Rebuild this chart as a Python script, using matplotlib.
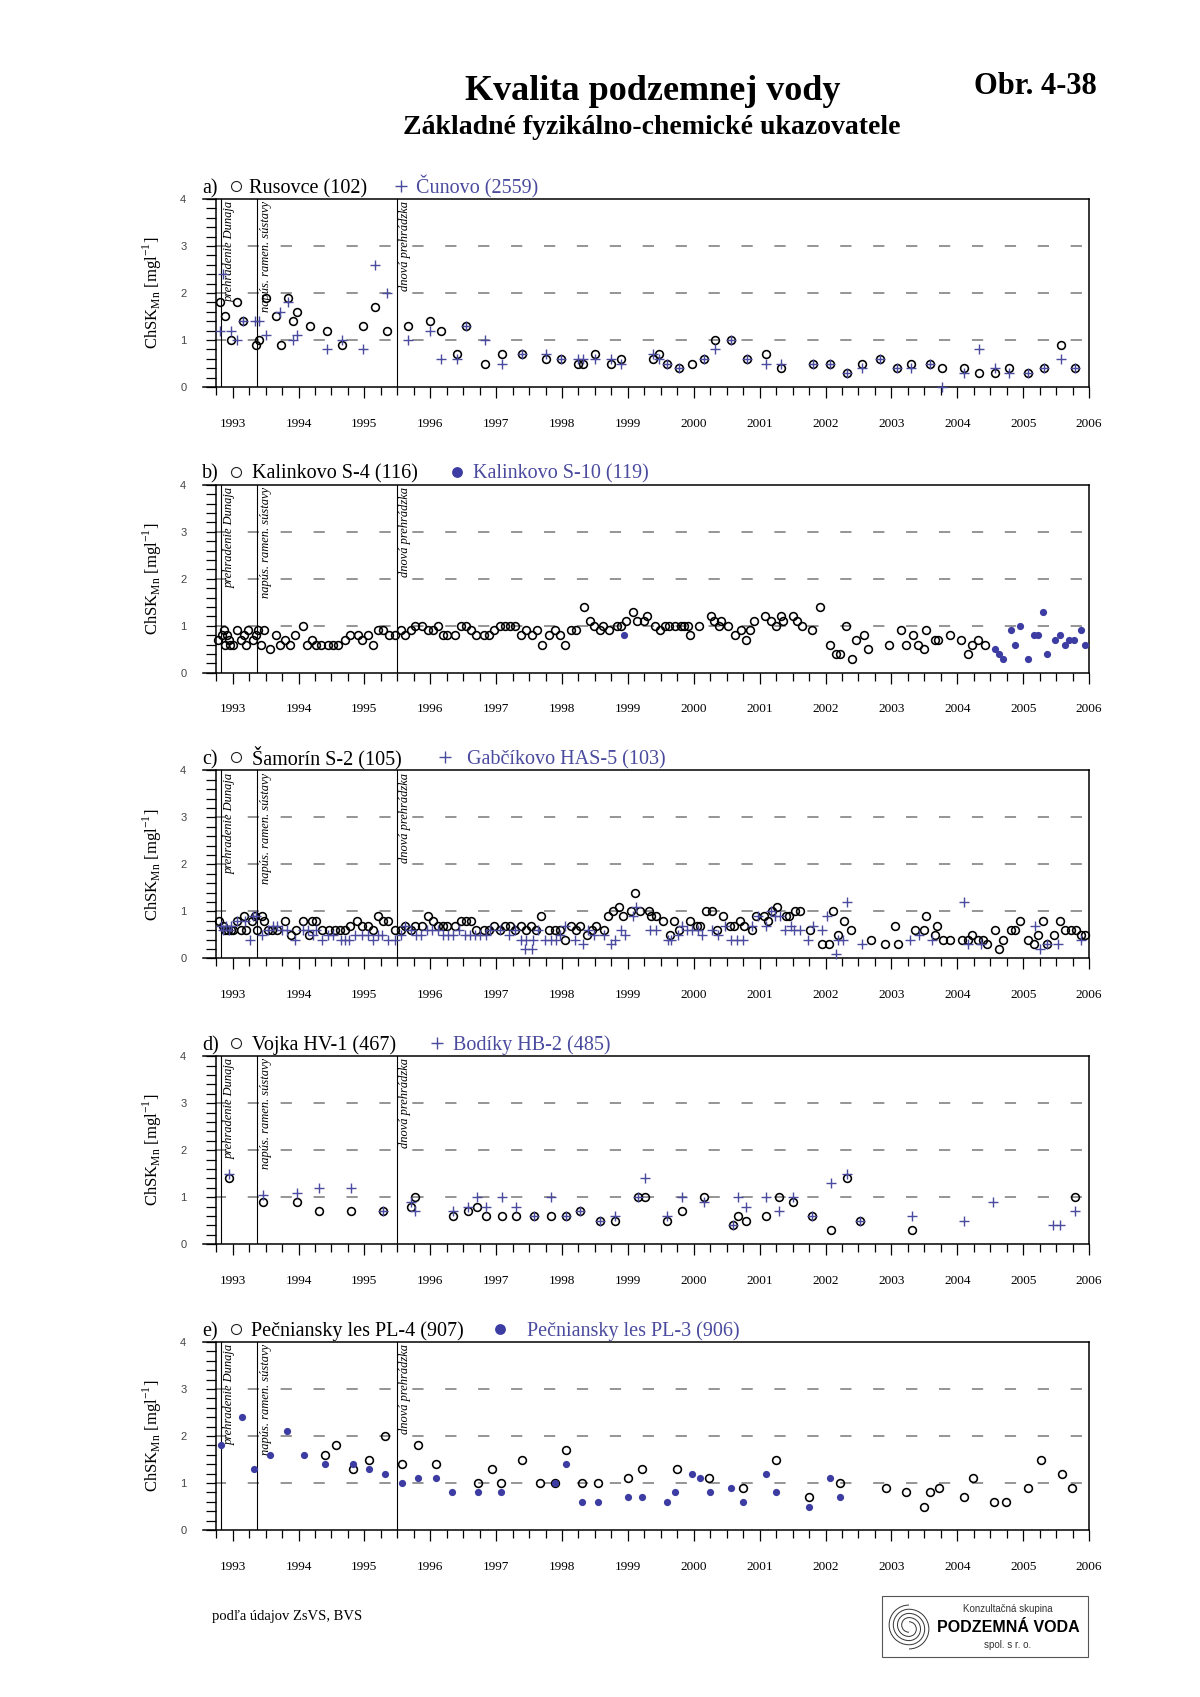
import numpy as np
import matplotlib
matplotlib.use('Agg')
from matplotlib import pyplot as plt
from matplotlib.lines import Line2D
from matplotlib.patches import Rectangle, Arc

plt.rcParams['font.family'] = ['Liberation Serif', 'DejaVu Serif']
plt.rcParams['mathtext.fontset'] = 'custom'
plt.rcParams['mathtext.rm'] = 'Liberation Serif'
plt.rcParams['lines.scale_dashes'] = False

W, H, DPI = 1200, 1697, 100

BLUE = '#4a4a9e'
DOT_BLUE = '#3c3ca2'
GREY = '#8c8c8c'

YEARS = list(range(1993, 2007))
Y_LEVELS = [1, 2, 3]
EVENT_T = [1992.83, 1993.37, 1995.49]
EVENT_TXT = ['prehradenie Dunaja', 'napús. ramen. sústavy', 'dnová prehrádzka']

# a) Rusovce (102) - circles
rus_t = [1992.81, 1992.88, 1992.98, 1993.06, 1993.16, 1993.35, 1993.40, 1993.50, 1993.66, 1993.73,
         1993.84, 1993.91, 1993.98, 1994.17, 1994.43, 1994.66, 1994.98, 1995.16, 1995.34, 1995.66,
         1995.99, 1996.16, 1996.40, 1996.55, 1996.83, 1997.09, 1997.39, 1997.75, 1997.98, 1998.24,
         1998.32, 1998.50, 1998.74, 1998.89, 1999.38, 1999.47, 1999.60, 1999.78, 1999.97, 2000.15,
         2000.32, 2000.56, 2000.81, 2001.10, 2001.33, 2001.81, 2002.07, 2002.33, 2002.55, 2002.83,
         2003.09, 2003.30, 2003.59, 2003.77, 2004.10, 2004.33, 2004.57, 2004.78, 2005.08, 2005.32,
         2005.58, 2005.79]
rus_v = [1.8, 1.5, 1.0, 1.8, 1.4, 0.9, 1.0, 1.9, 1.5, 0.9,
         1.9, 1.4, 1.6, 1.3, 1.2, 0.9, 1.3, 1.7, 1.2, 1.3,
         1.4, 1.2, 0.7, 1.3, 0.5, 0.7, 0.7, 0.6, 0.6, 0.5,
         0.5, 0.7, 0.5, 0.6, 0.6, 0.7, 0.5, 0.4, 0.5, 0.6,
         1.0, 1.0, 0.6, 0.7, 0.4, 0.5, 0.5, 0.3, 0.5, 0.6,
         0.4, 0.5, 0.5, 0.4, 0.4, 0.3, 0.3, 0.4, 0.3, 0.4,
         0.9, 0.4]
# a) Čunovo (2559) - crosses
cun_t = [1992.81, 1992.86, 1992.98, 1993.06, 1993.16, 1993.34, 1993.40, 1993.50, 1993.72, 1993.84,
         1993.91, 1993.98, 1994.43, 1994.66, 1994.98, 1995.16, 1995.34, 1995.66, 1995.99, 1996.16,
         1996.40, 1996.55, 1996.83, 1997.09, 1997.39, 1997.75, 1997.98, 1998.24, 1998.32, 1998.50,
         1998.74, 1998.89, 1999.38, 1999.47, 1999.60, 1999.78, 2000.15, 2000.32, 2000.56, 2000.81,
         2001.10, 2001.33, 2001.81, 2002.07, 2002.33, 2002.55, 2002.83, 2003.09, 2003.30, 2003.59,
         2003.77, 2004.10, 2004.33, 2004.57, 2004.78, 2005.08, 2005.32, 2005.58, 2005.79]
cun_v = [1.2, 2.4, 1.2, 1.0, 1.4, 1.4, 1.4, 1.1, 1.6, 1.8,
         1.0, 1.1, 0.8, 1.0, 0.8, 2.6, 2.0, 1.0, 1.2, 0.6,
         0.6, 1.3, 1.0, 0.5, 0.7, 0.7, 0.6, 0.6, 0.6, 0.6,
         0.6, 0.5, 0.7, 0.6, 0.5, 0.4, 0.6, 0.8, 1.0, 0.6,
         0.5, 0.5, 0.5, 0.5, 0.3, 0.4, 0.6, 0.4, 0.4, 0.5,
         0.0, 0.3, 0.8, 0.4, 0.3, 0.3, 0.4, 0.6, 0.4]

# b) Kalinkovo S-4 (116) - circles
ks4_t = [1992.78, 1992.84, 1992.87, 1992.88, 1992.92, 1992.94, 1992.96, 1993.00,
         1993.07, 1993.13, 1993.17, 1993.20, 1993.24, 1993.31, 1993.35, 1993.38, 1993.43, 1993.48,
         1993.56, 1993.66, 1993.72, 1993.79, 1993.87, 1993.95, 1994.07, 1994.13, 1994.20, 1994.27,
         1994.34, 1994.45, 1994.53, 1994.60, 1994.70, 1994.78, 1994.90, 1994.97, 1995.05, 1995.13,
         1995.20, 1995.28, 1995.37, 1995.47, 1995.55, 1995.62, 1995.70, 1995.77, 1995.88, 1995.97,
         1996.04, 1996.11, 1996.19, 1996.26, 1996.38, 1996.46, 1996.54, 1996.62, 1996.70, 1996.81,
         1996.89, 1996.97, 1997.06, 1997.13, 1997.21, 1997.29, 1997.37, 1997.46, 1997.54, 1997.62,
         1997.69, 1997.80, 1997.89, 1997.97, 1998.05, 1998.13, 1998.21, 1998.33, 1998.42, 1998.49,
         1998.57, 1998.62, 1998.72, 1998.83, 1998.90, 1998.97, 1999.08, 1999.14, 1999.24, 1999.29,
         1999.41, 1999.49, 1999.57, 1999.62, 1999.71, 1999.81, 1999.85, 1999.91, 1999.95, 2000.08,
         2000.26, 2000.31, 2000.38, 2000.42, 2000.52, 2000.62, 2000.71, 2000.80, 2000.86, 2000.92,
         2001.08, 2001.17, 2001.25, 2001.32, 2001.36, 2001.50, 2001.57, 2001.65, 2001.80, 2001.92,
         2002.07, 2002.16, 2002.22, 2002.31, 2002.40, 2002.47, 2002.58, 2002.65, 2002.97, 2003.15,
         2003.22, 2003.33, 2003.40, 2003.49, 2003.53, 2003.66, 2003.71, 2003.89, 2004.06, 2004.16,
         2004.22, 2004.32, 2004.42]
ks4_v = [0.7, 0.8, 0.9, 0.6, 0.8, 0.7, 0.6, 0.6,
         0.9, 0.7, 0.8, 0.6, 0.9, 0.7, 0.8, 0.9, 0.6, 0.9,
         0.5, 0.8, 0.6, 0.7, 0.6, 0.8, 1.0, 0.6, 0.7, 0.6,
         0.6, 0.6, 0.6, 0.6, 0.7, 0.8, 0.8, 0.7, 0.8, 0.6,
         0.9, 0.9, 0.8, 0.8, 0.9, 0.8, 0.9, 1.0, 1.0, 0.9,
         0.9, 1.0, 0.8, 0.8, 0.8, 1.0, 1.0, 0.9, 0.8, 0.8,
         0.8, 0.9, 1.0, 1.0, 1.0, 1.0, 0.8, 0.9, 0.8, 0.9,
         0.6, 0.8, 0.9, 0.8, 0.6, 0.9, 0.9, 1.4, 1.1, 1.0,
         0.9, 1.0, 0.9, 1.0, 1.0, 1.1, 1.3, 1.1, 1.1, 1.2,
         1.0, 0.9, 1.0, 1.0, 1.0, 1.0, 1.0, 1.0, 0.8, 1.0,
         1.2, 1.1, 1.0, 1.1, 1.0, 0.8, 0.9, 0.7, 0.9, 1.1,
         1.2, 1.1, 1.0, 1.2, 1.1, 1.2, 1.1, 1.0, 0.9, 1.4,
         0.6, 0.4, 0.4, 1.0, 0.3, 0.7, 0.8, 0.5, 0.6, 0.9,
         0.6, 0.8, 0.6, 0.5, 0.9, 0.7, 0.7, 0.8, 0.7, 0.4,
         0.6, 0.7, 0.6]
# b) Kalinkovo S-10 (119) - filled dots
ks10_t = [1998.94, 2004.57, 2004.64, 2004.70, 2004.81, 2004.88, 2004.95, 2005.08, 2005.16, 2005.23,
          2005.30, 2005.37, 2005.48, 2005.56, 2005.64, 2005.70, 2005.77, 2005.88, 2005.94]
ks10_v = [0.8, 0.5, 0.4, 0.3, 0.9, 0.6, 1.0, 0.3, 0.8, 0.8,
          1.3, 0.4, 0.7, 0.8, 0.6, 0.7, 0.7, 0.9, 0.6]

# c) Šamorín S-2 (105) - circles
sam_t = [1992.80, 1992.85, 1992.89, 1992.93, 1992.97, 1993.00,
         1993.07, 1993.12, 1993.17, 1993.20, 1993.29, 1993.34, 1993.37, 1993.44, 1993.48, 1993.53,
         1993.60, 1993.68, 1993.79, 1993.88, 1993.96, 1994.07, 1994.16, 1994.20, 1994.27, 1994.35,
         1994.47, 1994.55, 1994.63, 1994.70, 1994.78, 1994.89, 1994.97, 1995.05, 1995.13, 1995.20,
         1995.28, 1995.36, 1995.47, 1995.56, 1995.62, 1995.70, 1995.77, 1995.88, 1995.97, 1996.04,
         1996.11, 1996.19, 1996.26, 1996.38, 1996.46, 1996.54, 1996.62, 1996.70, 1996.82, 1996.89,
         1996.97, 1997.06, 1997.13, 1997.21, 1997.29, 1997.37, 1997.46, 1997.53, 1997.61, 1997.68,
         1997.80, 1997.89, 1997.97, 1998.05, 1998.13, 1998.21, 1998.28, 1998.38, 1998.45, 1998.52,
         1998.63, 1998.70, 1998.78, 1998.87, 1998.93, 1999.05, 1999.11, 1999.18, 1999.32, 1999.35,
         1999.43, 1999.53, 1999.64, 1999.70, 1999.78, 1999.95, 2000.05, 2000.10, 2000.19, 2000.28,
         2000.36, 2000.45, 2000.55, 2000.61, 2000.70, 2000.77, 2000.89, 2000.95, 2001.07, 2001.12,
         2001.19, 2001.27, 2001.40, 2001.45, 2001.54, 2001.61, 2001.77, 2001.94, 2002.06, 2002.12,
         2002.19, 2002.28, 2002.38, 2002.69, 2002.91, 2003.05, 2003.10, 2003.36, 2003.49, 2003.53,
         2003.66, 2003.70, 2003.79, 2003.89, 2004.07, 2004.16, 2004.22, 2004.32, 2004.39, 2004.45,
         2004.57, 2004.64, 2004.70, 2004.81, 2004.88, 2004.95, 2005.08, 2005.16, 2005.23, 2005.30,
         2005.36, 2005.47, 2005.56, 2005.64, 2005.73, 2005.80, 2005.88, 2005.94]
sam_v = [0.8, 0.7, 0.6, 0.6, 0.6, 0.6,
         0.8, 0.6, 0.9, 0.6, 0.8, 0.9, 0.6, 0.9, 0.8, 0.6,
         0.6, 0.6, 0.8, 0.5, 0.6, 0.8, 0.5, 0.8, 0.8, 0.6,
         0.6, 0.6, 0.6, 0.6, 0.7, 0.8, 0.7, 0.7, 0.6, 0.9,
         0.8, 0.8, 0.6, 0.6, 0.7, 0.6, 0.7, 0.7, 0.9, 0.8,
         0.7, 0.7, 0.7, 0.7, 0.8, 0.8, 0.8, 0.6, 0.6, 0.6,
         0.7, 0.6, 0.7, 0.7, 0.6, 0.7, 0.6, 0.7, 0.6, 0.9,
         0.6, 0.6, 0.6, 0.4, 0.7, 0.6, 0.7, 0.5, 0.6, 0.7,
         0.6, 0.9, 1.0, 1.1, 0.9, 1.0, 1.4, 1.0, 1.0, 0.9,
         0.9, 0.8, 0.5, 0.8, 0.6, 0.8, 0.7, 0.7, 1.0, 1.0,
         0.6, 0.9, 0.7, 0.7, 0.8, 0.7, 0.6, 0.9, 0.9, 0.8,
         1.0, 1.1, 0.9, 0.9, 1.0, 1.0, 0.6, 0.3, 0.3, 1.0,
         0.5, 0.8, 0.6, 0.4, 0.3, 0.7, 0.3, 0.6, 0.6, 0.9,
         0.5, 0.7, 0.4, 0.4, 0.4, 0.4, 0.5, 0.4, 0.4, 0.3,
         0.6, 0.2, 0.4, 0.6, 0.6, 0.8, 0.4, 0.3, 0.5, 0.8,
         0.3, 0.5, 0.8, 0.6, 0.6, 0.6, 0.5, 0.5]
# c) Gabčíkovo HAS-5 (103) - crosses
gab_t = [1992.82, 1992.86, 1992.90, 1992.94, 1992.98,
         1993.07, 1993.19, 1993.26, 1993.31, 1993.35, 1993.44, 1993.53, 1993.61, 1993.68, 1993.75,
         1993.83, 1993.95, 1994.07, 1994.15, 1994.22, 1994.27, 1994.36, 1994.45, 1994.53, 1994.64,
         1994.70, 1994.76, 1994.86, 1994.97, 1995.05, 1995.13, 1995.20, 1995.27, 1995.36, 1995.46,
         1995.55, 1995.62, 1995.70, 1995.78, 1995.86, 1995.95, 1996.03, 1996.11, 1996.19, 1996.27,
         1996.35, 1996.43, 1996.52, 1996.60, 1996.68, 1996.76, 1996.84, 1996.90, 1997.06, 1997.19,
         1997.28, 1997.38, 1997.44, 1997.46, 1997.55, 1997.56, 1997.63, 1997.74, 1997.83, 1997.91,
         1997.97, 1998.05, 1998.20, 1998.32, 1998.40, 1998.49,
         1998.64, 1998.74, 1998.81, 1998.89, 1998.95, 1999.08, 1999.13, 1999.34, 1999.42, 1999.61,
         1999.66, 1999.76, 1999.82, 1999.90, 1999.98, 2000.06, 2000.13, 2000.28, 2000.37, 2000.47,
         2000.57, 2000.66, 2000.75, 2000.89, 2000.98, 2001.09, 2001.17, 2001.24, 2001.31, 2001.38,
         2001.47, 2001.52, 2001.61, 2001.73, 2001.81, 2001.95, 2002.03, 2002.16, 2002.19, 2002.27,
         2002.32, 2002.56, 2003.28, 2003.42, 2003.61, 2004.10, 2004.17, 2004.36, 2005.18, 2005.26,
         2005.37, 2005.53, 2005.88]
gab_v = [0.7, 0.6, 0.7, 0.6, 0.7,
         0.8, 0.8, 0.4, 0.9, 0.9, 0.5, 0.6, 0.7, 0.7, 0.6,
         0.6, 0.4, 0.6, 0.6, 0.5, 0.6, 0.4, 0.5, 0.5, 0.4,
         0.4, 0.4, 0.5, 0.5, 0.5, 0.4, 0.5, 0.5, 0.4, 0.4,
         0.5, 0.7, 0.6, 0.5, 0.5, 0.6, 0.6, 0.6, 0.5, 0.5,
         0.5, 0.6, 0.5, 0.5, 0.5, 0.5, 0.5, 0.6, 0.6, 0.5,
         0.6, 0.4, 0.2, 0.4, 0.2, 0.4, 0.6, 0.4, 0.4, 0.4,
         0.5, 0.7, 0.4, 0.3, 0.6, 0.5,
         0.5, 0.3, 0.4, 0.6, 0.5, 0.9, 1.1, 0.6, 0.6, 0.4,
         0.4, 0.5, 0.7, 0.6, 0.6, 0.6, 0.5, 0.6, 0.5, 0.7,
         0.4, 0.4, 0.4, 0.7, 0.9, 0.7, 1.0, 0.9, 0.9, 0.6,
         0.7, 0.6, 0.6, 0.4, 0.7, 0.6, 0.9, 0.1, 0.4, 0.4,
         1.2, 0.3, 0.4, 0.5, 0.4, 1.2, 0.3, 0.3, 0.7, 0.2,
         0.3, 0.3, 0.4]

# d) Vojka HV-1 (467) - circles
voj_t = [1992.95, 1993.46, 1993.97, 1994.31, 1994.79, 1995.29, 1995.71, 1995.77, 1996.34, 1996.58,
         1996.71, 1996.85, 1997.09, 1997.30, 1997.57, 1997.84, 1998.06, 1998.27, 1998.58, 1998.81,
         1999.15, 1999.26, 1999.60, 1999.82, 2000.16, 2000.59, 2000.67, 2000.79, 2001.10, 2001.29,
         2001.51, 2001.79, 2002.09, 2002.32, 2002.53, 2003.32, 2005.79]
voj_v = [1.4, 0.9, 0.9, 0.7, 0.7, 0.7, 0.8, 1.0, 0.6, 0.7,
         0.8, 0.6, 0.6, 0.6, 0.6, 0.6, 0.6, 0.7, 0.5, 0.5,
         1.0, 1.0, 0.5, 0.7, 1.0, 0.4, 0.6, 0.5, 0.6, 1.0,
         0.9, 0.6, 0.3, 1.4, 0.5, 0.3, 1.0]
# d) Bodíky HB-2 (485) - crosses
bod_t = [1992.95, 1993.46, 1993.97, 1994.31, 1994.79, 1995.29, 1995.71, 1995.77, 1996.34, 1996.58,
         1996.71, 1996.85, 1997.09, 1997.30, 1997.57, 1997.84, 1998.06, 1998.27, 1998.58, 1998.81,
         1999.15, 1999.26, 1999.60, 1999.82, 2000.16, 2000.59, 2000.67, 2000.79, 2001.10, 2001.29,
         2001.51, 2001.79, 2002.09, 2002.32, 2002.53, 2003.32, 2004.10, 2004.54, 2005.45, 2005.56,
         2005.79]
bod_v = [1.5, 1.05, 1.1, 1.2, 1.2, 0.7, 0.9, 0.7, 0.7, 0.8,
         1.0, 0.8, 1.0, 0.8, 0.6, 1.0, 0.6, 0.7, 0.5, 0.6,
         1.0, 1.4, 0.6, 1.0, 0.9, 0.4, 1.0, 0.8, 1.0, 0.7,
         1.0, 0.6, 1.3, 1.5, 0.5, 0.6, 0.5, 0.9, 0.4, 0.4,
         0.7]

# e) Pečniansky les PL-4 (907) - circles
pl4_t = [1994.40, 1994.57, 1994.82, 1995.07, 1995.32, 1995.57, 1995.82, 1996.08, 1996.73, 1996.94,
         1997.07, 1997.40, 1997.66, 1997.90, 1998.06, 1998.31, 1998.55, 1999.00, 1999.22, 1999.74,
         2000.23, 2000.75, 2001.25, 2001.75, 2002.22, 2002.92, 2003.22, 2003.50, 2003.59, 2003.72,
         2004.10, 2004.24, 2004.56, 2004.74, 2005.08, 2005.27, 2005.59, 2005.74]
pl4_v = [1.6, 1.8, 1.3, 1.5, 2.0, 1.4, 1.8, 1.4, 1.0, 1.3,
         1.0, 1.5, 1.0, 1.0, 1.7, 1.0, 1.0, 1.1, 1.3, 1.3,
         1.1, 0.9, 1.5, 0.7, 1.0, 0.9, 0.8, 0.5, 0.8, 0.9,
         0.7, 1.1, 0.6, 0.6, 0.9, 1.5, 1.2, 0.9]
# e) Pečniansky les PL-3 (906) - filled dots
pl3_t = [1992.82, 1993.14, 1993.32, 1993.57, 1993.83, 1994.08, 1994.40, 1994.82, 1995.07, 1995.32,
         1995.57, 1995.82, 1996.08, 1996.33, 1996.73, 1997.07, 1997.90, 1998.06, 1998.31, 1998.55,
         1999.00, 1999.22, 1999.59, 1999.72, 1999.97, 2000.10, 2000.24, 2000.56, 2000.75, 2001.09,
         2001.25, 2001.75, 2002.07, 2002.22]
pl3_v = [1.8, 2.4, 1.3, 1.6, 2.1, 1.6, 1.4, 1.4, 1.3, 1.2,
         1.0, 1.1, 1.1, 0.8, 0.8, 0.8, 1.0, 1.4, 0.6, 0.6,
         0.7, 0.7, 0.6, 0.8, 1.2, 1.1, 0.8, 0.9, 0.6, 1.2,
         0.8, 0.5, 1.1, 0.7]

# letter, first station, second station, series, kind of 2nd marker, title x positions (px)
PANELS = [
    ('a', 'Rusovce (102)', 'Čunovo (2559)', (rus_t, rus_v), (cun_t, cun_v), '+', (249, 401, 416)),
    ('b', 'Kalinkovo S-4 (116)', 'Kalinkovo S-10 (119)', (ks4_t, ks4_v), (ks10_t, ks10_v), 'dot', (252, 457, 473)),
    ('c', 'Šamorín S-2 (105)', 'Gabčíkovo HAS-5 (103)', (sam_t, sam_v), (gab_t, gab_v), '+', (252, 445, 467)),
    ('d', 'Vojka HV-1 (467)', 'Bodíky HB-2 (485)', (voj_t, voj_v), (bod_t, bod_v), '+', (252, 437, 453)),
    ('e', 'Pečniansky les PL-4 (907)', 'Pečniansky les PL-3 (906)', (pl4_t, pl4_v), (pl3_t, pl3_v), 'dot', (251, 500, 527)),
]


def fx(px):
    return px / W


def fy(py):
    return 1 - py / H


fig = plt.figure(figsize=(W / DPI, H / DPI), dpi=DPI)
fig.patch.set_facecolor('white')

for i, (letter, n1, n2, s1, s2, kind2, (x1, xs, x2)) in enumerate(PANELS):
    top = 199 + 285.75 * i
    ax = fig.add_axes([fx(203), fy(top + 188), 886 / W, 188 / H])
    ax.set_xlim(1992.55, 2006.0)
    ax.set_ylim(0, 4)
    for s in ax.spines.values():
        s.set_linewidth(1.1)
    ax.spines['left'].set_position(('data', 1992.75))

    ax.set_xticks(YEARS)
    ax.set_xticklabels([str(y) for y in YEARS])
    ax.set_xticks(np.arange(1992.75, 2006.0, 0.25), minor=True)
    ax.set_yticks([0, 1, 2, 3, 4])
    ax.set_yticks(np.arange(0, 4.01, 0.2), minor=True)
    ax.tick_params(axis='x', which='major', direction='out', length=8, width=0.9, pad=14, labelsize=9.5)
    ax.tick_params(axis='x', which='minor', direction='out', length=5.5, width=0.9)
    ax.tick_params(axis='y', which='both', direction='out', length=7.5, width=0.9)
    ax.tick_params(axis='y', which='major', pad=14, labelsize=8, labelcolor='#444444')
    for lab in ax.get_yticklabels():
        lab.set_fontfamily('Liberation Sans')

    for yl in Y_LEVELS:
        ax.axhline(yl, color=GREY, lw=1.3, linestyle=(15.2, (8.1, 15.6)), zorder=1)

    for t, txt in zip(EVENT_T, EVENT_TXT):
        ax.axvline(t, color='black', lw=0.8, zorder=2)
        ax.annotate(txt, xy=(t, 4), xytext=(1.8, -1.5), textcoords='offset points',
                    rotation=90, ha='left', va='top', fontsize=9, style='italic')

    ax.plot(*s1, ls='none', marker='o', ms=5.6, mfc='none', mec='black', mew=1.15,
            zorder=3, clip_on=False)
    if kind2 == '+':
        ax.plot(*s2, ls='none', marker='+', ms=6.5, mec=BLUE, mew=1.0, zorder=4, clip_on=False)
    else:
        ax.plot(*s2, ls='none', marker='o', ms=5.2, mfc=DOT_BLUE, mec='none', zorder=4)

    ax.set_ylabel(r'ChSK$_{\mathregular{Mn}}$ [mgl$^{\mathregular{-1}}$]', fontsize=12)
    ax.yaxis.set_label_coords(-0.044, 0.5)

    # title row above each panel
    base = fy(top - 6)
    mid = fy(top - 13)
    fig.text(fx(202), base, letter + ')', fontsize=14.5, va='baseline')
    fig.add_artist(Line2D([fx(236)], [mid], marker='o', ms=7.2, mfc='none', mec='#222222', mew=0.8))
    fig.text(fx(x1), base, n1, fontsize=14.5, va='baseline')
    if kind2 == '+':
        fig.add_artist(Line2D([fx(xs)], [mid], marker='+', ms=9, mec=BLUE, mew=1.0))
    else:
        fig.add_artist(Line2D([fx(xs)], [mid], marker='o', ms=7.8, mfc=DOT_BLUE, mec='none'))
    fig.text(fx(x2), base, n2, fontsize=14.5, va='baseline', color=BLUE)

# headings
fig.text(fx(653), fy(91), 'Kvalita podzemnej vody', fontsize=26, fontweight='bold',
         ha='center', va='center')
fig.text(fx(652), fy(128), 'Základné fyzikálno-chemické ukazovatele', fontsize=20,
         fontweight='bold', ha='center', va='center')
fig.text(fx(1097), fy(87), 'Obr. 4-38', fontsize=22, fontweight='bold', ha='right', va='center')

fig.text(fx(212), fy(1620), 'podľa údajov ZsVS, BVS', fontsize=10.5, va='baseline')

# logo box
fig.add_artist(Rectangle((fx(882), fy(1657)), 206 / W, 61 / H, fill=False, lw=0.8,
                         ec='#555555', transform=fig.transFigure))
fig.text(fx(1008), fy(1609), 'Konzultačná skupina', fontsize=7, ha='center', va='center',
         family='Liberation Sans', color='#333333')
fig.text(fx(1008), fy(1627), 'PODZEMNÁ VODA', fontsize=11.5, ha='center', va='center',
         family='Liberation Sans', fontweight='bold')
fig.text(fx(1008), fy(1645), 'spol. s r. o.', fontsize=7, ha='center', va='center',
         family='Liberation Sans', color='#333333')

icon = fig.add_axes([fx(886), fy(1652), 46 / W, 50 / H])
icon.set_xlim(-1.1, 1.1)
icon.set_ylim(-1.1, 1.1)
icon.set_aspect('equal')
icon.axis('off')
for r in [0.35, 0.55, 0.75, 0.95]:
    icon.add_patch(Arc((0, 0.1), 2 * r, 2 * r, theta1=90, theta2=270, lw=0.7, color='#333333'))
    icon.add_patch(Arc((0, -0.1), 2 * r, 2 * r, theta1=-90, theta2=90, lw=0.7, color='#333333'))

fig.savefig('out.png', dpi=DPI)
